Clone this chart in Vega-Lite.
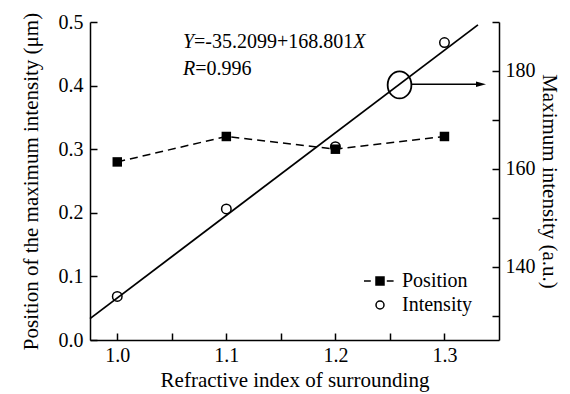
{
  "$schema": "https://vega.github.io/schema/vega-lite/v6.json",
  "width": 409,
  "height": 318,
  "autosize": {"type": "none"},
  "padding": {"left": 90, "top": 22, "right": 71, "bottom": 54},
  "background": "white",
  "config": {
    "font": "Liberation Serif",
    "view": {"stroke": null},
    "axis": {
      "domainColor": "black", "domainWidth": 1.5, "tickColor": "black", "tickWidth": 1.5,
      "labelColor": "black", "titleColor": "black", "labelFontSize": 20, "titleFontSize": 21,
      "titleFontWeight": "normal", "grid": false, "labelFont": "Liberation Serif", "titleFont": "Liberation Serif"
    }
  },
  "datasets": {
    "position": [
      {"n": 1.0, "v": 0.28, "series": "Position"},
      {"n": 1.1, "v": 0.32, "series": "Position"},
      {"n": 1.2, "v": 0.30, "series": "Position"},
      {"n": 1.3, "v": 0.32, "series": "Position"}
    ],
    "intensity": [
      {"n": 1.0, "v": 133.9, "series": "Intensity"},
      {"n": 1.1, "v": 151.8, "series": "Intensity"},
      {"n": 1.2, "v": 164.5, "series": "Intensity"},
      {"n": 1.3, "v": 185.8, "series": "Intensity"}
    ],
    "fit": [
      {"n": 0.975, "v": 129.37},
      {"n": 1.3307, "v": 189.41}
    ],
    "ellipse": [{"n": 1.2588, "v": 0.401}],
    "arrow": [{"n": 1.2702, "n2": 1.3335, "v": 0.402}],
    "arrowhead": [{"n": 1.3335, "v": 0.402}],
    "eqItalic": [
      {"n": 1.0603, "v": 0.4591, "t": "Y"},
      {"n": 1.2164, "v": 0.4591, "t": "X"},
      {"n": 1.0603, "v": 0.4167, "t": "R"}
    ],
    "eqNormal": [
      {"n": 1.0704, "v": 0.4591, "t": "=-35.2099+168.801"},
      {"n": 1.0715, "v": 0.4167, "t": "=0.996"}
    ]
  },
  "layer": [
    {
      "layer": [
        {
          "data": {"name": "position"},
          "mark": {"type": "line", "color": "black", "strokeWidth": 1.5, "strokeDash": [8, 5]},
          "encoding": {
            "x": {"field": "n", "type": "quantitative", "scale": {"domain": [0.975, 1.35], "nice": false, "zero": false},
              "axis": {
                "title": "Refractive index of surrounding",
                "values": [1.0, 1.05, 1.1, 1.15, 1.2, 1.25, 1.3],
                "format": ".1f",
                "labelExpr": "abs(datum.value*10-round(datum.value*10))<0.001 ? datum.label : ''",
                "labelFlush": false, "labelOverlap": false,
                "tickSize": -7, "labelPadding": 12, "titlePadding": 4,
                "encode": {"ticks": {"y2": {"value": {"expr": "abs(datum.value*10-round(datum.value*10))<0.001 ? -7 : -3.5"}}}}
              }},
            "y": {"field": "v", "type": "quantitative", "scale": {"domain": [0, 0.5], "nice": false, "zero": false},
              "axis": {
                "title": "Position of the maximum intensity (μm)",
                "orient": "left",
                "values": [0, 0.05, 0.1, 0.15, 0.2, 0.25, 0.3, 0.35, 0.4, 0.45, 0.5],
                "format": ".1f",
                "labelExpr": "abs(datum.value*10-round(datum.value*10))<0.001 ? datum.label : ''",
                "labelFlush": false, "labelOverlap": false,
                "tickSize": -7, "labelPadding": 14, "titlePadding": 17,
                "encode": {"ticks": {"x2": {"value": {"expr": "abs(datum.value*10-round(datum.value*10))<0.001 ? 7 : 3.5"}}}}
              }}
          }
        },
        {
          "data": {"name": "position"},
          "mark": {"type": "point", "shape": "square", "filled": true, "color": "black", "size": 90, "opacity": 1},
          "encoding": {
            "x": {"field": "n", "type": "quantitative", "scale": {"domain": [0.975, 1.35], "nice": false, "zero": false}},
            "y": {"field": "v", "type": "quantitative", "scale": {"domain": [0, 0.5], "nice": false, "zero": false}}
          }
        },
        {
          "data": {"name": "ellipse"},
          "mark": {"type": "point", "filled": false, "color": "black", "strokeWidth": 1.8, "size": 729, "opacity": 1,
            "shape": "M -0.88 0 C -0.88 -0.552 -0.486 -1 0 -1 C 0.486 -1 0.88 -0.552 0.88 0 C 0.88 0.552 0.486 1 0 1 C -0.486 1 -0.88 0.552 -0.88 0 Z"},
          "encoding": {
            "x": {"field": "n", "type": "quantitative", "scale": {"domain": [0.975, 1.35], "nice": false, "zero": false}},
            "y": {"field": "v", "type": "quantitative", "scale": {"domain": [0, 0.5], "nice": false, "zero": false}}
          }
        },
        {
          "data": {"name": "arrow"},
          "mark": {"type": "rule", "color": "black", "strokeWidth": 1.5},
          "encoding": {
            "x": {"field": "n", "type": "quantitative", "scale": {"domain": [0.975, 1.35], "nice": false, "zero": false}},
            "x2": {"field": "n2"},
            "y": {"field": "v", "type": "quantitative", "scale": {"domain": [0, 0.5], "nice": false, "zero": false}}
          }
        },
        {
          "data": {"name": "arrowhead"},
          "mark": {"type": "point", "filled": true, "color": "black", "size": 100, "opacity": 1,
            "shape": "M 1 0 L -1 -0.55 L -1 0.55 Z"},
          "encoding": {
            "x": {"field": "n", "type": "quantitative", "scale": {"domain": [0.975, 1.35], "nice": false, "zero": false}},
            "y": {"field": "v", "type": "quantitative", "scale": {"domain": [0, 0.5], "nice": false, "zero": false}}
          }
        },
        {
          "data": {"name": "eqItalic"},
          "mark": {"type": "text", "fontStyle": "italic", "fontSize": 20, "align": "left", "baseline": "alphabetic", "color": "black", "font": "Liberation Serif"},
          "encoding": {
            "x": {"field": "n", "type": "quantitative", "scale": {"domain": [0.975, 1.35], "nice": false, "zero": false}},
            "y": {"field": "v", "type": "quantitative", "scale": {"domain": [0, 0.5], "nice": false, "zero": false}},
            "text": {"field": "t"}
          }
        },
        {
          "data": {"name": "eqNormal"},
          "mark": {"type": "text", "fontSize": 20, "align": "left", "baseline": "alphabetic", "color": "black", "font": "Liberation Serif"},
          "encoding": {
            "x": {"field": "n", "type": "quantitative", "scale": {"domain": [0.975, 1.35], "nice": false, "zero": false}},
            "y": {"field": "v", "type": "quantitative", "scale": {"domain": [0, 0.5], "nice": false, "zero": false}},
            "text": {"field": "t"}
          }
        }
      ]
    },
    {
      "layer": [
        {
          "data": {"name": "fit"},
          "mark": {"type": "line", "color": "black", "strokeWidth": 1.8},
          "encoding": {
            "x": {"field": "n", "type": "quantitative", "scale": {"domain": [0.975, 1.35], "nice": false, "zero": false}},
            "y": {"field": "v", "type": "quantitative", "scale": {"domain": [125, 190], "nice": false, "zero": false},
              "axis": {
                "title": "Maximum intensity (a.u.)",
                "orient": "right",
                "values": [130, 140, 150, 160, 170, 180, 190],
                "labelExpr": "datum.value % 20 === 0 ? datum.label : ''",
                "labelFlush": false, "labelOverlap": false,
                "tickSize": -7, "labelPadding": 13, "titlePadding": 3,
                "encode": {"ticks": {"x2": {"value": {"expr": "datum.value % 20 === 0 ? -7 : -3.5"}}}}
              }}
          }
        },
        {
          "data": {"name": "intensity"},
          "mark": {"type": "point", "filled": false, "strokeWidth": 1.5, "size": 90, "opacity": 1},
          "encoding": {
            "x": {"field": "n", "type": "quantitative", "scale": {"domain": [0.975, 1.35], "nice": false, "zero": false}},
            "y": {"field": "v", "type": "quantitative", "scale": {"domain": [125, 190], "nice": false, "zero": false}},
            "shape": {"field": "series", "type": "nominal",
              "scale": {"domain": ["Position", "Intensity"], "range": ["M -4 0 H -2.3 M -1 -1 H 1 V 1 H -1 Z M 1.7 0 H 3.4", "circle"]},
              "legend": {
                "title": null, "orient": "none", "legendX": 280, "legendY": 249, "padding": 0,
                "labelFontSize": 20, "labelFont": "Liberation Serif", "labelColor": "black",
                "symbolSize": 64, "labelOffset": 12, "rowPadding": 4, "symbolStrokeWidth": 1.5
              }},
            "fill": {"field": "series", "type": "nominal",
              "scale": {"domain": ["Position", "Intensity"], "range": ["black", "transparent"]},
              "legend": {
                "title": null, "orient": "none", "legendX": 280, "legendY": 249, "padding": 0,
                "labelFontSize": 20, "labelFont": "Liberation Serif", "labelColor": "black",
                "symbolSize": 64, "labelOffset": 12, "rowPadding": 4, "symbolStrokeWidth": 1.5
              }},
            "stroke": {"field": "series", "type": "nominal",
              "scale": {"domain": ["Position", "Intensity"], "range": ["black", "black"]},
              "legend": {
                "title": null, "orient": "none", "legendX": 280, "legendY": 249, "padding": 0,
                "labelFontSize": 20, "labelFont": "Liberation Serif", "labelColor": "black",
                "symbolSize": 64, "labelOffset": 12, "rowPadding": 4, "symbolStrokeWidth": 1.5
              }}
          }
        }
      ]
    }
  ],
  "resolve": {"scale": {"y": "independent"}, "axis": {"y": "independent"}}
}
